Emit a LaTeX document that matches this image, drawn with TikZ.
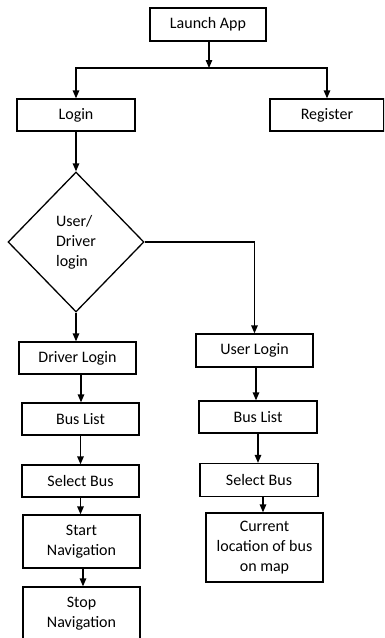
\documentclass[tikz,border=0pt]{standalone}
\usepackage{fontspec}
\setmainfont{Carlito}
\usetikzlibrary{arrows.meta,shapes.geometric}
\begin{document}
\begin{tikzpicture}[x=1pt,y=-1pt,
  every node/.style={font=\fontsize{16}{20}\selectfont, inner sep=0pt},
  box/.style={draw, line width=1.3pt, rectangle, align=center},
  arr/.style={line width=1.3pt, -{Triangle[length=8pt,width=6.5pt]}},
  ln/.style={line width=1.3pt}]
\clip (0,0) rectangle (384,638);
\useasboundingbox (0,0) rectangle (384,638);
\node[box, minimum width=116pt, minimum height=33pt] (launch) at (208,24.5) {Launch App};
\node[box, minimum width=118pt, minimum height=32pt] (login) at (76,115) {Login};
\node[box, minimum width=114pt, minimum height=32pt] (register) at (327,115) {Register};
\node[draw, line width=1.3pt, diamond, minimum width=136pt, minimum height=140pt, align=left] (dia) at (76,242) {User/\\Driver\\login};
\node[box, minimum width=117pt, minimum height=32pt] (drv) at (77.5,358) {Driver Login};
\node[box, minimum width=117pt, minimum height=33pt] (usr) at (254.5,350.5) {User Login};
\node[box, minimum width=117pt, minimum height=32pt] (bus1) at (80.5,419) {Bus List};
\node[box, minimum width=118pt, minimum height=32pt] (bus2) at (258,417) {Bus List};
\node[box, minimum width=117pt, minimum height=32pt] (sel1) at (80.5,481) {Select Bus};
\node[box, minimum width=118pt, minimum height=33pt] (sel2) at (259,480) {Select Bus};
\node[box, minimum width=117pt, minimum height=53pt] (start) at (81.5,541.5) {Start\\Navigation};
\node[box, minimum width=117pt, minimum height=53pt] (stop) at (81.5,613.5) {Stop\\Navigation};
\node[box, minimum width=117pt, minimum height=69pt] (curr) at (264.5,547.5) {Current\\location of bus\\on map};
\coordinate (j) at (209,68);
\coordinate (c1) at (81,0);
\coordinate (c2) at (256,0);
\coordinate (c3) at (263,0);
\coordinate (c4) at (83,0);
\draw[arr] (launch.south -| j) -- (j);
\draw[arr] (j) -| (login.north);
\draw[arr] (j) -| (register.north);
\draw[arr] (login.south) -- (login.south |- dia.north);
\draw[arr] (dia.south) -- (dia.south |- drv.north);
\draw[arr] (dia.east) -| (usr.north);
\draw[arr] (drv.south -| c1) -- (bus1.north -| c1);
\draw[arr] (usr.south -| c2) -- (bus2.north -| c2);
\draw[arr] (bus1.south) -- (bus1.south |- sel1.north);
\draw[arr] (bus2.south) -- (bus2.south |- sel2.north);
\draw[arr] (sel1.south) -- (sel1.south |- start.north);
\draw[arr] (sel2.south -| c3) -- (curr.north -| c3);
\draw[arr] (start.south -| c4) -- (stop.north -| c4);
\end{tikzpicture}
\end{document}
